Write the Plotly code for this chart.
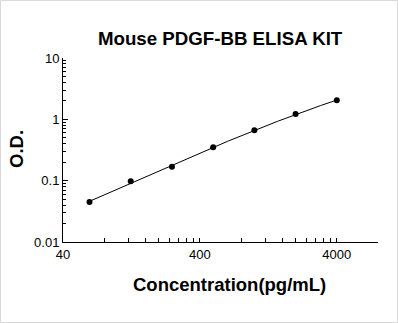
import plotly.graph_objects as go
import numpy as np

conc = [62.5, 125, 250, 500, 1000, 2000, 4000]
od = [0.045, 0.098, 0.169, 0.350, 0.663, 1.22, 2.04]

x_major = [40, 400, 4000]
x_labels = ["40", "400", "4000"]
x_minor = [40 * k for k in range(2, 10)] + [400 * k for k in range(2, 10)] + [8000]
y_major = [0.01, 0.1, 1, 10]
y_labels = ["0.01", "0.1", "1", "10"]
y_minor = [d * k for d in (0.01, 0.1, 1) for k in range(2, 10)]

# smooth standard curve: cubic fit in log-log space
lx, ly = np.log10(conc), np.log10(od)
coef = np.polyfit(lx, ly, 3)
fx = np.linspace(lx[0], lx[-1], 200)
fy = np.polyval(coef, fx)

fig = go.Figure()
fig.add_trace(go.Scatter(
    x=10 ** fx, y=10 ** fy, mode="lines",
    line=dict(color="black", width=1), showlegend=False, hoverinfo="skip",
))
fig.add_trace(go.Scatter(
    x=conc, y=od, mode="markers",
    marker=dict(color="black", size=6),
    showlegend=False,
))

fig.update_layout(
    width=398, height=323,
    margin=dict(l=63, r=20, t=58, b=81),
    paper_bgcolor="white", plot_bgcolor="white",
    title=dict(text="<b>Mouse PDGF-BB ELISA KIT</b>", x=0.553, xanchor="center",
               y=1 - 38 / 323, yanchor="middle",
               font=dict(family="Liberation Sans, Arial", size=18.7, color="black")),
    font=dict(family="Liberation Sans, Arial", color="black"),
)

fig.update_xaxes(
    type="log", range=[np.log10(40), np.log10(8000)],
    showline=True, linecolor="black", linewidth=1, mirror=False,
    showgrid=False, zeroline=False,
    tickmode="array", tickvals=x_major, ticktext=x_labels,
    ticks="inside", ticklen=4, tickcolor="black", tickwidth=1,
    tickfont=dict(size=13, color="black"),
    minor=dict(tickmode="array", tickvals=x_minor, ticks="inside", ticklen=4,
               tickcolor="black", tickwidth=1, showgrid=False),
)
fig.update_yaxes(
    type="log", range=[-2, 1],
    showline=True, linecolor="black", linewidth=1, mirror=False,
    showgrid=False, zeroline=False,
    tickmode="array", tickvals=y_major, ticktext=y_labels,
    ticks="inside", ticklen=5, tickcolor="black", tickwidth=1,
    tickfont=dict(size=13, color="black"),
    minor=dict(tickmode="array", tickvals=y_minor, ticks="inside", ticklen=3,
               tickcolor="black", tickwidth=1, showgrid=False),
)

# axis titles as annotations (placed as in the reference)
fig.add_annotation(text="<b>Concentration(pg/mL)</b>", xref="paper", yref="paper",
                   x=(229 - 63) / 315, y=-(284 - 242) / 184, xanchor="center",
                   yanchor="middle", showarrow=False,
                   font=dict(size=18.5, color="black"))
fig.add_annotation(text="<b>O.D.</b>", xref="paper", yref="paper",
                   x=(16 - 63) / 315, y=(242 - 149) / 184, xanchor="center",
                   yanchor="middle", showarrow=False, textangle=-90,
                   font=dict(size=18.5, color="black"))

# light grey frame around the whole picture
fig.add_shape(type="rect", xref="paper", yref="paper",
              x0=-63 / 315 + 0.5 / 315, x1=1 + 20 / 315 - 0.5 / 315,
              y0=-81 / 184 + 0.5 / 184, y1=1 + 58 / 184 - 0.5 / 184,
              line=dict(color="#d9d9d9", width=1), layer="below")

fig.write_html("out.html")
